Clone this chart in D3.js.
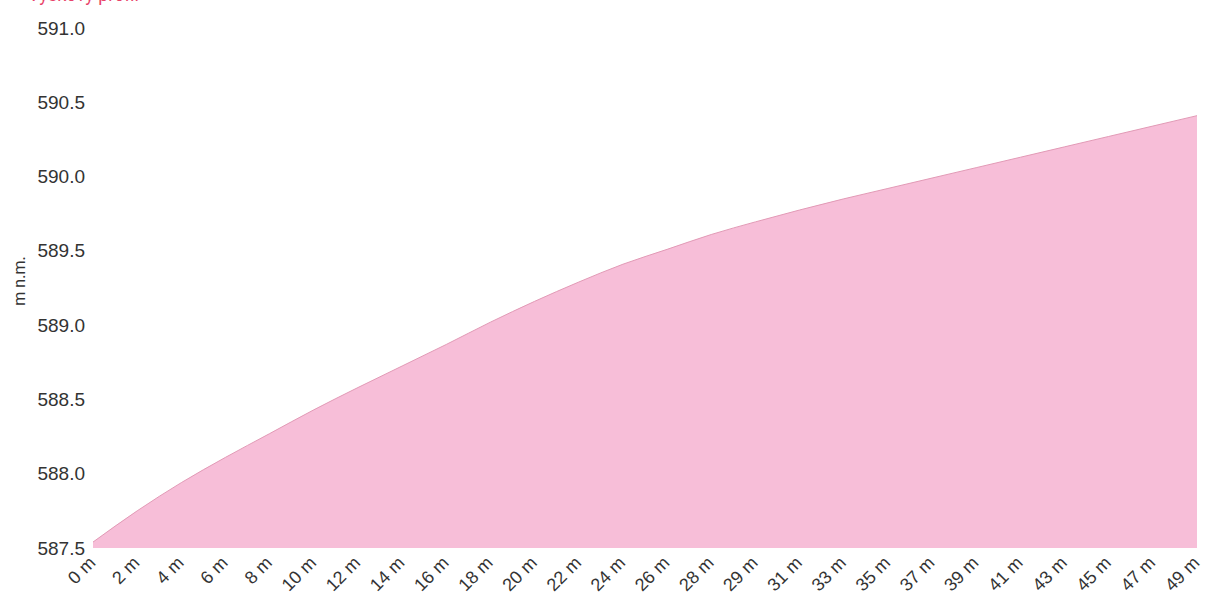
<!DOCTYPE html>
<html>
<head>
<meta charset="utf-8">
<script src="https://cdn.jsdelivr.net/npm/d3@7"></script>
<style>
    body { margin: 0; background: #fff; }
    svg { display: block; font-family: Roboto, "Noto Sans", sans-serif; }
    .axis text { fill: #333; }
</style>
</head>
<body>
<div id="chart"></div>
<script>
// Elevation profile (m n.m.) along the route

const width = 1207;
const height = 614;

const margin = { top: 28, right: 10, bottom: 66, left: 93 };

// ---------- Data ----------

const distanceLabels = [
    "0 m", "2 m", "4 m", "6 m", "8 m", "10 m", "12 m", "14 m", "16 m", "18 m",
    "20 m", "22 m", "24 m", "26 m", "28 m", "29 m", "31 m", "33 m", "35 m", "37 m",
    "39 m", "41 m", "43 m", "45 m", "47 m", "49 m"
];

const elevations = [
    587.54, 587.75, 587.94, 588.11, 588.27, 588.43, 588.58, 588.725, 588.87, 589.02,
    589.16, 589.29, 589.41, 589.51, 589.61, 589.695, 589.775, 589.85, 589.92, 589.99,
    590.06, 590.13, 590.20, 590.27, 590.34, 590.41
];

const yTicks = [587.5, 588.0, 588.5, 589.0, 589.5, 590.0, 590.5, 591.0];

const points = distanceLabels.map((label, i) => ({ label: label, value: elevations[i] }));

// ---------- Scales ----------

const svg = d3.select("#chart")
    .append("svg")
    .attr("width", width)
    .attr("height", height);

const xScale = d3.scalePoint()
    .domain(distanceLabels)
    .range([margin.left, width - margin.right]);

const yScale = d3.scaleLinear()
    .domain([587.5, 591.0])
    .range([height - margin.bottom, margin.top]);

// ---------- Area ----------

const area = d3.area()
    .x(d => xScale(d.label))
    .y0(yScale(587.5))
    .y1(d => yScale(d.value))
    .curve(d3.curveMonotoneX);

const line = d3.line()
    .x(d => xScale(d.label))
    .y(d => yScale(d.value))
    .curve(d3.curveMonotoneX);

svg.append("path")
    .datum(points)
    .attr("fill", "#f7bed8")
    .attr("d", area);

svg.append("path")
    .datum(points)
    .attr("fill", "none")
    .attr("stroke", "#e29ab6")
    .attr("stroke-width", 1)
    .attr("d", line);

// ---------- Axes ----------

const yAxis = d3.axisLeft(yScale)
    .tickValues(yTicks)
    .tickSize(0)
    .tickPadding(8)
    .tickFormat(d3.format(".1f"));

const yAxisGroup = svg.append("g")
    .attr("class", "axis")
    .attr("transform", `translate(${margin.left}, 0)`)
    .call(yAxis);

yAxisGroup.select(".domain").remove();
yAxisGroup.selectAll("text")
    .style("font-size", "19px")
    .attr("text-anchor", "end");

const xAxis = d3.axisBottom(xScale)
    .tickSize(0)
    .tickPadding(0);

const xAxisGroup = svg.append("g")
    .attr("class", "axis")
    .attr("transform", `translate(0, ${height - margin.bottom})`)
    .call(xAxis);

xAxisGroup.select(".domain").remove();
xAxisGroup.selectAll("text")
    .style("font-size", "18px")
    .attr("text-anchor", "end")
    .attr("dy", null)
    .attr("y", 0)
    .attr("transform", "translate(3, 16) rotate(-45)");

// Y axis title
svg.append("text")
    .attr("transform", `translate(25, 281) rotate(-90)`)
    .attr("text-anchor", "middle")
    .attr("fill", "#333")
    .style("font-size", "16px")
    .text("m n.m.");

// Title (cut off at the top edge in the original)
svg.append("text")
    .attr("x", 28)
    .attr("y", 1)
    .attr("fill", "#e8436a")
    .style("font-size", "18px")
    .text("Výškový profil");
</script>
</body>
</html>
